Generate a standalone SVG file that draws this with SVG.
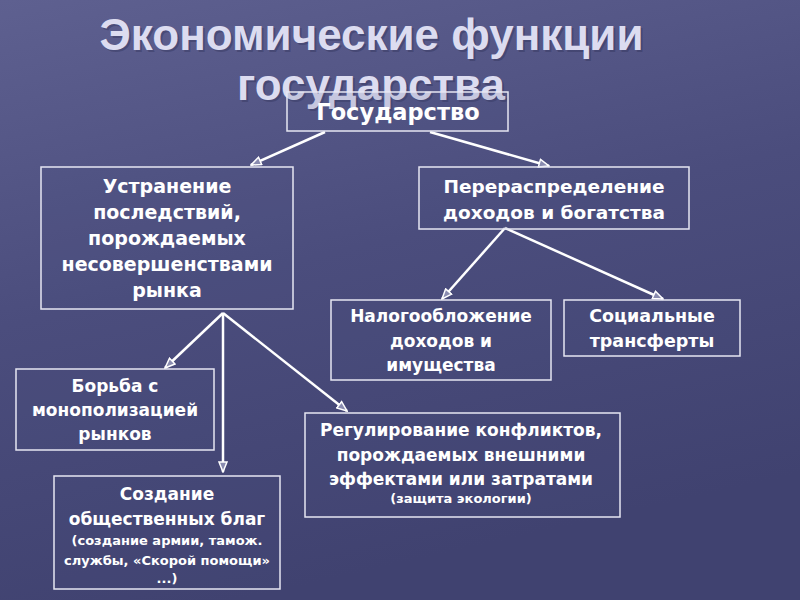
<svg xmlns="http://www.w3.org/2000/svg" width="800" height="600" viewBox="0 0 800 600">
<defs>
<linearGradient id="bg" x1="0" y1="0" x2="0.3" y2="1">
<stop offset="0" stop-color="#5e6090"/>
<stop offset="0.5" stop-color="#4b4d7d"/>
<stop offset="1" stop-color="#404270"/>
</linearGradient>
<marker id="ah" viewBox="0 0 12 10" refX="11" refY="5" markerWidth="12" markerHeight="10" markerUnits="userSpaceOnUse" orient="auto">
<path d="M1,1 L11,5 L1,9 Z" fill="#8a8cb0" stroke="#ffffff" stroke-width="1.5"/>
</marker>
<style>
.box{fill:#4c4e7e;fill-opacity:0.15;stroke:#e6e6f2;stroke-width:1.5}
.t{font-family:"DejaVu Sans","Liberation Sans",sans-serif;font-weight:bold;fill:#ffffff;text-anchor:middle}
.m{font-size:19px}
.n{font-size:17px}
.s{font-size:13px}
.title{font-family:"Liberation Sans",Arial,sans-serif;font-weight:bold;font-size:44px;fill:#dcdcf0;text-anchor:middle}
.sh{fill:#2a2c50;fill-opacity:0.35}
.ln{stroke:#ffffff;stroke-width:2.5;fill:none;marker-end:url(#ah)}
</style>
</defs>
<rect width="800" height="600" fill="url(#bg)"/>
<g id="title">
<text class="title sh" x="373.5" y="52">Экономические функции</text>
<text class="title" x="371.5" y="50">Экономические функции</text>
<text class="title sh" x="373" y="102">государства</text>
<text class="title" x="371" y="100">государства</text>
</g>
<g id="connectors">
<line class="ln" x1="325" y1="132" x2="251" y2="165"/>
<line class="ln" x1="430" y1="132" x2="549" y2="166"/>
<line class="ln" x1="505" y1="228" x2="442" y2="299"/>
<line class="ln" x1="505" y1="228" x2="663" y2="299"/>
<line class="ln" x1="223" y1="313" x2="165" y2="368"/>
<line class="ln" x1="223" y1="313" x2="223" y2="472"/>
<line class="ln" x1="223" y1="313" x2="347" y2="411"/>
</g>
<g id="n-state">
<rect class="box" x="287" y="92" width="221" height="39"/>
<text class="t" x="398" y="120" style="font-size:22.5px">Государство</text>
</g>
<g id="n-elim">
<rect class="box" x="41" y="167" width="252" height="142"/>
<text class="t m" x="167" y="193">Устранение</text>
<text class="t m" x="167" y="219">последствий,</text>
<text class="t m" x="167" y="245">порождаемых</text>
<text class="t m" x="167" y="271">несовершенствами</text>
<text class="t m" x="167" y="297">рынка</text>
</g>
<g id="n-redist">
<rect class="box" x="419" y="167" width="270" height="62"/>
<text class="t" x="554" y="193" style="font-size:18.5px">Перераспределение</text>
<text class="t" x="554" y="219" style="font-size:18.5px">доходов и богатства</text>
</g>
<g id="n-tax">
<rect class="box" x="331" y="300" width="220" height="80"/>
<text class="t n" x="441" y="322">Налогообложение</text>
<text class="t n" x="441" y="347">доходов и</text>
<text class="t n" x="441" y="371">имущества</text>
</g>
<g id="n-soc">
<rect class="box" x="564" y="300" width="176" height="56"/>
<text class="t" x="652" y="322" style="font-size:17.5px">Социальные</text>
<text class="t" x="652" y="347" style="font-size:17.5px">трансферты</text>
</g>
<g id="n-mono">
<rect class="box" x="16" y="369" width="198" height="81"/>
<text class="t n" x="115" y="392">Борьба с</text>
<text class="t n" x="115" y="416">монополизацией</text>
<text class="t n" x="115" y="440">рынков</text>
</g>
<g id="n-public">
<rect class="box" x="54" y="476" width="226" height="113"/>
<text class="t n" x="167" y="500">Создание</text>
<text class="t n" x="167" y="525">общественных благ</text>
<text class="t s" x="167" y="545">(создание армии, тамож.</text>
<text class="t s" x="167" y="565">службы, «Скорой помощи»</text>
<text class="t s" x="167" y="583">...)</text>
</g>
<g id="n-ext">
<rect class="box" x="305" y="413" width="315" height="104"/>
<text class="t n" x="461" y="436">Регулирование конфликтов,</text>
<text class="t n" x="461" y="461">порождаемых внешними</text>
<text class="t n" x="461" y="485">эффектами или затратами</text>
<text class="t s" x="461" y="503">(защита экологии)</text>
</g>
</svg>
